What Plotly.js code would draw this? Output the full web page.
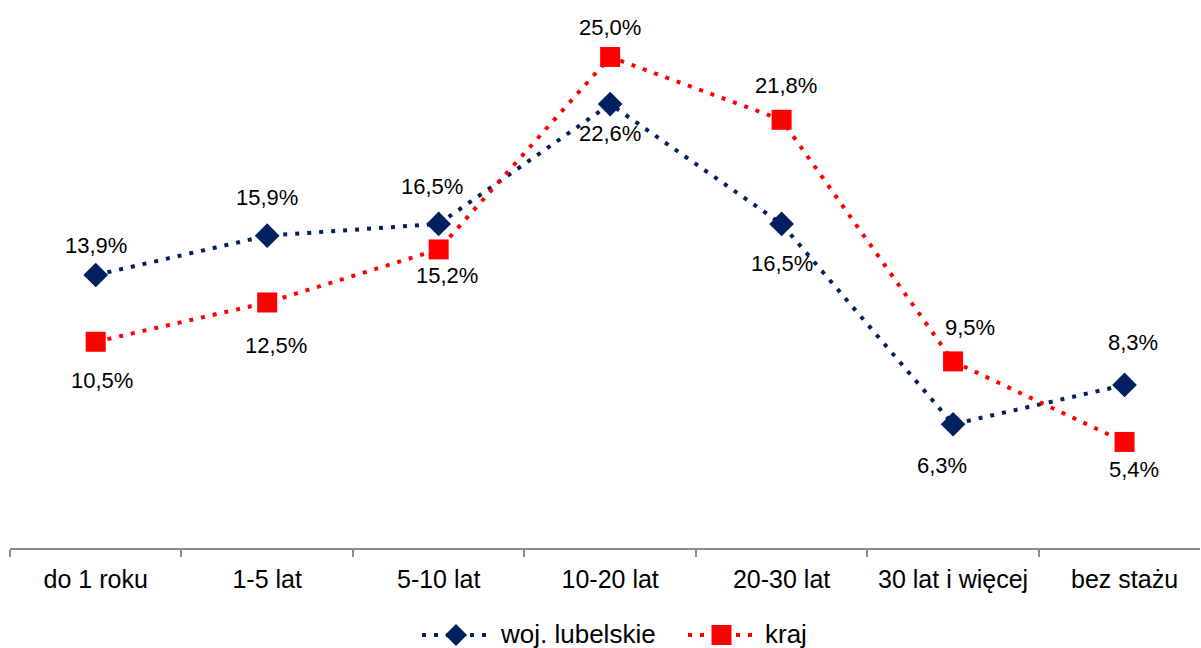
<!DOCTYPE html>
<html>
<head>
<meta charset="utf-8">
<script src="https://cdn.plot.ly/plotly-3.0.1.min.js"></script>
<style>html,body{margin:0;padding:0;background:#fff;}#chart{width:1201px;height:648px;}</style>
</head>
<body>
<div id="chart"></div>
<script>
var categories = ["do 1 roku", "1-5 lat", "5-10 lat", "10-20 lat", "20-30 lat", "30 lat i więcej", "bez stażu"];
var seriesNames = ["woj. lubelskie", "kraj"];
var wojValues = [13.9, 15.9, 16.5, 22.6, 16.5, 6.3, 8.3];
var krajValues = [10.5, 12.5, 15.2, 25.0, 21.8, 9.5, 5.4];

// label placement (pixel offsets from each point)
var wojLabelShift = [[0, 29], [0, 38], [-7, 37], [0, -29], [0, -40], [-11, -41], [8, 42]];
var krajLabelShift = [[6, -39], [9, -43], [8, -26], [0, 29], [4, 34], [17, 34], [9, -28]];

function fmt(v) { return v.toFixed(1).replace('.', ',') + '%'; }

var NAVY = '#002060', RED = '#FF0000';
var FONT = 'Liberation Sans, Arial, sans-serif';
var DASH = '4px,8px';

var traces = [
  {
    x: categories, y: wojValues, name: seriesNames[0], type: 'scatter', mode: 'lines+markers',
    line: {color: NAVY, width: 4, dash: DASH},
    marker: {symbol: 'diamond', size: 19, color: NAVY}
  },
  {
    x: categories, y: krajValues, name: seriesNames[1], type: 'scatter', mode: 'lines+markers',
    line: {color: RED, width: 4, dash: DASH},
    marker: {symbol: 'square', size: 20, color: RED}
  }
];

var annotations = [];
function addLabels(vals, shifts) {
  vals.forEach(function (v, i) {
    annotations.push({
      x: categories[i], y: v, xref: 'x', yref: 'y', text: fmt(v), showarrow: false,
      xshift: shifts[i][0], yshift: shifts[i][1],
      font: {family: FONT, size: 22, color: '#000'}
    });
  });
}
addLabels(wojValues, wojLabelShift);
addLabels(krajValues, krajLabelShift);

// custom legend (pixel -> paper helpers)
var M = {l: 10, r: 1, t: 0, b: 100}, W = 1201, H = 648;
var PW = W - M.l - M.r, PH = H - M.t - M.b;
function px(x) { return (x - M.l) / PW; }
function py(y) { return (PH + M.t - y) / PH; }
var LY = 635;
var shapes = [];
function legendItem(x0, x1, color, kind, textX, label) {
  shapes.push({type: 'line', xref: 'paper', yref: 'paper', x0: px(x0), x1: px(x1), y0: py(LY), y1: py(LY),
    line: {color: color, width: 4, dash: DASH}});
  var cx = (x0 + x1) / 2, path;
  if (kind === 'diamond') {
    path = 'M' + px(cx - 11) + ',' + py(LY) + ' L' + px(cx) + ',' + py(LY - 11) + ' L' + px(cx + 11) + ',' + py(LY) + ' L' + px(cx) + ',' + py(LY + 11) + ' Z';
  } else {
    path = 'M' + px(cx - 10) + ',' + py(LY - 10) + ' L' + px(cx + 10) + ',' + py(LY - 10) + ' L' + px(cx + 10) + ',' + py(LY + 10) + ' L' + px(cx - 10) + ',' + py(LY + 10) + ' Z';
  }
  shapes.push({type: 'path', xref: 'paper', yref: 'paper', path: path, fillcolor: color, line: {width: 0}});
  annotations.push({xref: 'paper', yref: 'paper', x: px(textX), y: py(LY - 1), xanchor: 'left', yanchor: 'middle',
    text: label, showarrow: false, font: {family: FONT, size: 26, color: '#000'}});
}
legendItem(422, 490, NAVY, 'diamond', 498, seriesNames[0]);
legendItem(688, 755, RED, 'square', 763, seriesNames[1]);

var layout = {
  width: W, height: H,
  margin: M,
  paper_bgcolor: '#fff', plot_bgcolor: '#fff',
  font: {family: FONT, size: 22, color: '#000'},
  showlegend: false,
  xaxis: {
    type: 'category', range: [-0.5, 6.44], tickson: 'boundaries',
    showline: true, linecolor: '#8c8c8c', linewidth: 2,
    ticks: 'outside', ticklen: 7, tickcolor: '#8c8c8c', tickwidth: 2,
    ticklabelstandoff: 8,
    showgrid: false, zeroline: false, fixedrange: true,
    tickfont: {family: FONT, size: 25, color: '#000'}
  },
  yaxis: {
    range: [0, 27.9], visible: false, showgrid: false, zeroline: false, fixedrange: true
  },
  shapes: shapes,
  annotations: annotations
};

Plotly.newPlot('chart', traces, layout, {displayModeBar: false, staticPlot: true});
</script>
</body>
</html>
